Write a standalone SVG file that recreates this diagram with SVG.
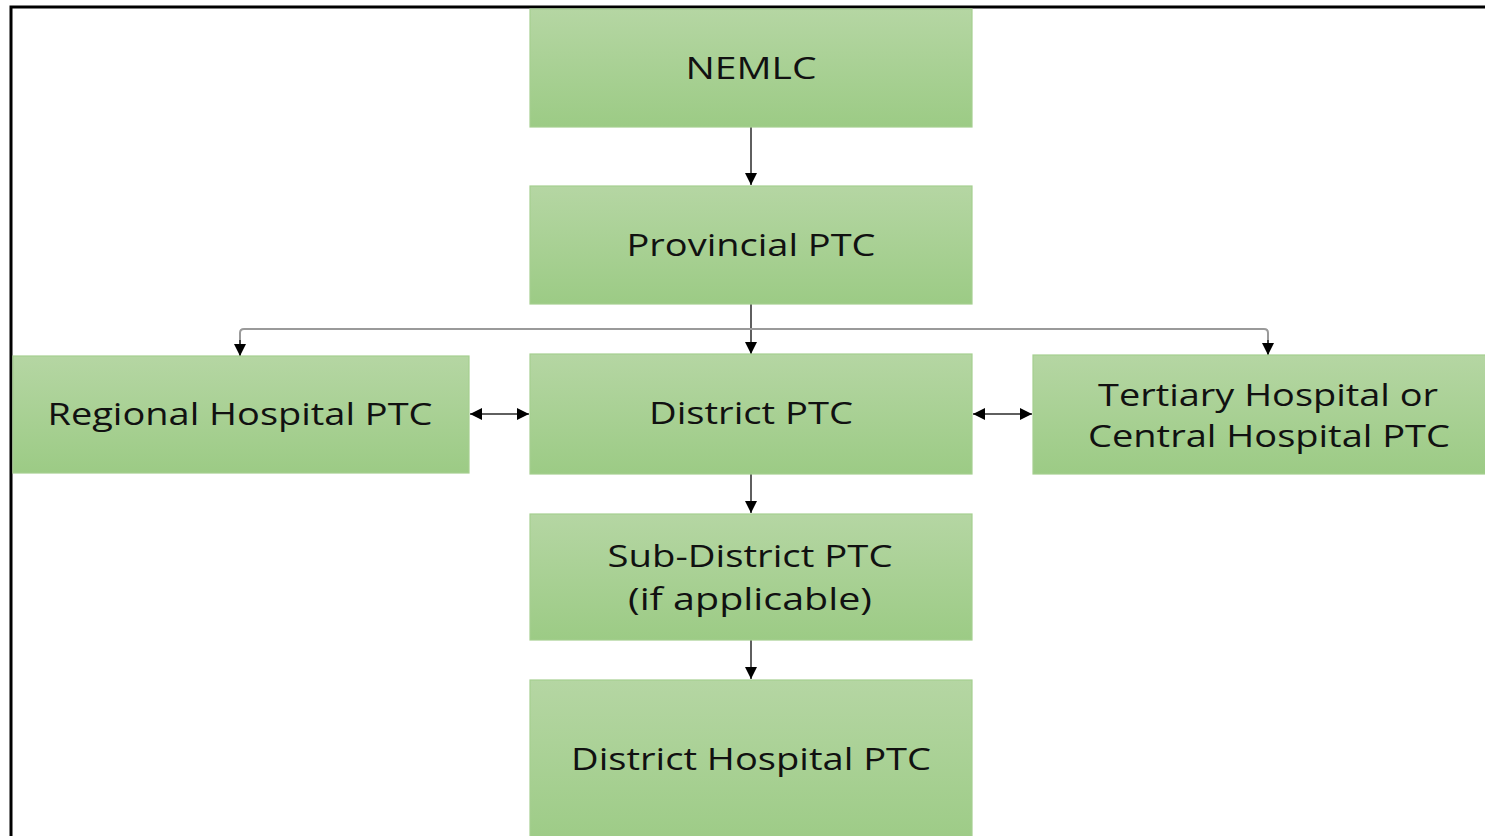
<svg xmlns="http://www.w3.org/2000/svg" width="1485" height="836" viewBox="0 0 1485 836">
  <style>
    .box { fill: url(#g); stroke: #a6cf90; stroke-width: 1.2; }
    .lbl { font-family: "Open Sans", "Liberation Sans", sans-serif; font-size: 31px; fill: #111; text-anchor: middle; }
    .arr { stroke: #2a2a2a; stroke-width: 1.5; fill: none; }
    .bus { stroke: #9a9a9a; stroke-width: 2; fill: none; }
  </style>
  <defs>
    <linearGradient id="g" x1="0" y1="0" x2="0" y2="1">
      <stop offset="0" stop-color="#b5d6a3"/>
      <stop offset="1" stop-color="#9ccb85"/>
    </linearGradient>
    <marker id="ah" markerUnits="userSpaceOnUse" markerWidth="14" markerHeight="14" viewBox="0 0 14 14" refX="12" refY="7" orient="auto-start-reverse">
      <path d="M0,1 L12,7 L0,13 Z" fill="#000"/>
    </marker>
  </defs>
  <rect width="1485" height="836" fill="#fff"/>
  <path d="M11,836 V7 H1485" fill="none" stroke="#000" stroke-width="3"/>

  <g id="connectors">
    <path class="arr" d="M751,127 V185" marker-end="url(#ah)"/>
    <path class="arr" d="M751,304 V354" marker-end="url(#ah)"/>
    <path class="bus" d="M240,356 V333 Q240,329 244,329 H1264 Q1268,329 1268,333 V355"/>
    <path class="arr" d="M240,340 V356" marker-end="url(#ah)"/>
    <path class="arr" d="M1268,340 V355" marker-end="url(#ah)"/>
    <path class="arr" d="M470,414 H529" marker-start="url(#ah)" marker-end="url(#ah)"/>
    <path class="arr" d="M973,414 H1032" marker-start="url(#ah)" marker-end="url(#ah)"/>
    <path class="arr" d="M751,474 V513" marker-end="url(#ah)"/>
    <path class="arr" d="M751,640 V679" marker-end="url(#ah)"/>
  </g>

  <g id="nemlc">
    <rect class="box" x="530" y="9" width="442" height="118"/>
    <text class="lbl" x="751" y="79" textLength="131" lengthAdjust="spacingAndGlyphs">NEMLC</text>
  </g>
  <g id="provincial">
    <rect class="box" x="530" y="186" width="442" height="118"/>
    <text class="lbl" x="751" y="256" textLength="249" lengthAdjust="spacingAndGlyphs">Provincial PTC</text>
  </g>
  <g id="regional">
    <rect class="box" x="13" y="356" width="456" height="117"/>
    <text class="lbl" x="240" y="425" textLength="385" lengthAdjust="spacingAndGlyphs">Regional Hospital PTC</text>
  </g>
  <g id="district">
    <rect class="box" x="530" y="354" width="442" height="120"/>
    <text class="lbl" x="751" y="424" textLength="204" lengthAdjust="spacingAndGlyphs">District PTC</text>
  </g>
  <g id="tertiary">
    <rect class="box" x="1033" y="355" width="460" height="119"/>
    <text class="lbl" x="1268" y="406" textLength="340" lengthAdjust="spacingAndGlyphs">Tertiary Hospital or</text>
    <text class="lbl" x="1269" y="447" textLength="362" lengthAdjust="spacingAndGlyphs">Central Hospital PTC</text>
  </g>
  <g id="subdistrict">
    <rect class="box" x="530" y="514" width="442" height="126"/>
    <text class="lbl" x="750" y="567" textLength="285" lengthAdjust="spacingAndGlyphs">Sub-District PTC</text>
    <text class="lbl" x="750" y="610" textLength="244" lengthAdjust="spacingAndGlyphs">(if applicable)</text>
  </g>
  <g id="districthospital">
    <rect class="box" x="530" y="680" width="442" height="170"/>
    <text class="lbl" x="751" y="770" textLength="360" lengthAdjust="spacingAndGlyphs">District Hospital PTC</text>
  </g>
</svg>
